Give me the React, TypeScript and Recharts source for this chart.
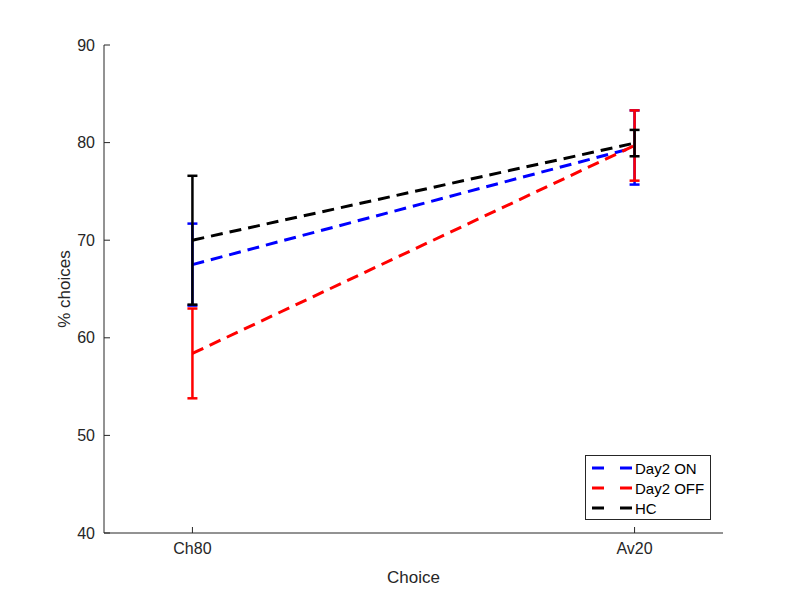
import { ComposedChart, Line, XAxis, YAxis, ErrorBar, Label } from 'recharts';

const categories = ['Ch80', 'Av20'];
const positions = [1, 2];

const day2On = [67.5, 79.5];
const day2OnErr = [4.2, 3.8];
const day2Off = [58.4, 79.7];
const day2OffErr = [4.6, 3.6];
const hc = [70.0, 79.95];
const hcErr = [6.6, 1.35];

const yTicks = [40, 50, 60, 70, 80, 90];

const series = [
  { key: 'on', name: 'Day2 ON', color: '#0000ff' },
  { key: 'off', name: 'Day2 OFF', color: '#ff0000' },
  { key: 'hc', name: 'HC', color: '#000000' },
];

const data = positions.map((x, i) => ({
  x,
  on: day2On[i],
  onErr: day2OnErr[i],
  off: day2Off[i],
  offErr: day2OffErr[i],
  hc: hc[i],
  hcErr: hcErr[i],
}));

const AXIS = '#262626';
const FONT = '"Liberation Sans", Arial, sans-serif';
const PLOT_LEFT = 104;
const PLOT_BOTTOM = 533;

// MATLAB style ticks point into the axes
const YTick = (props: any) => {
  const { y, payload } = props;
  return (
    <g>
      <line x1={PLOT_LEFT} x2={PLOT_LEFT + 6} y1={y} y2={y} stroke={AXIS} strokeWidth={1} />
      <text x={PLOT_LEFT - 9} y={y} dy={5.5} textAnchor="end" fill={AXIS} fontSize={16} fontFamily={FONT}>
        {payload.value}
      </text>
    </g>
  );
};

const XTick = (props: any) => {
  const { x, payload } = props;
  const idx = positions.indexOf(payload.value);
  return (
    <g>
      <line x1={x} x2={x} y1={PLOT_BOTTOM} y2={PLOT_BOTTOM - 6} stroke={AXIS} strokeWidth={1} />
      <text x={x} y={PLOT_BOTTOM + 21} textAnchor="middle" fill={AXIS} fontSize={16} fontFamily={FONT}>
        {idx >= 0 ? categories[idx] : ''}
      </text>
    </g>
  );
};

const LegendBox = () => (
  <div
    style={{
      position: 'absolute',
      left: 585,
      top: 455,
      width: 126,
      height: 65,
      boxSizing: 'border-box',
      border: '1px solid #262626',
      background: '#fff',
      padding: '2px 0 0 4px',
      fontFamily: FONT,
      fontSize: 15,
      color: '#000',
    }}
  >
    {series.map((s) => (
      <div key={s.key} style={{ display: 'flex', alignItems: 'center', height: 20 }}>
        <svg width={44} height={10} style={{ marginRight: 1 }}>
          <line x1={2} x2={44} y1={5} y2={5} stroke={s.color} strokeWidth={3} strokeDasharray="12 16" />
        </svg>
        <span>{s.name}</span>
      </div>
    ))}
  </div>
);

export default function App() {
  return (
    <div style={{ position: 'absolute', left: 0, top: 0, width: 800, height: 600, background: '#fff' }}>
      <ComposedChart width={800} height={600} data={data} margin={{ top: 45, right: 77, bottom: 27, left: 0 }}>
        <XAxis
          dataKey="x"
          type="number"
          domain={[0.8, 2.2]}
          ticks={positions}
          interval={0}
          axisLine={{ stroke: AXIS, strokeWidth: 1 }}
          tickLine={false}
          tick={<XTick />}
          tickSize={0}
          tickMargin={8}
          height={40}
        >
          <Label value="Choice" position="insideBottom" offset={-10} fill={AXIS} fontSize={17} fontFamily={FONT} />
        </XAxis>
        <YAxis
          type="number"
          domain={[40, 90]}
          ticks={yTicks}
          interval={0}
          axisLine={{ stroke: AXIS, strokeWidth: 1 }}
          tickLine={false}
          tick={<YTick />}
          tickSize={0}
          tickMargin={8}
          width={104}
          allowDataOverflow
        >
          <Label
            value="% choices"
            angle={-90}
            position="insideLeft"
            offset={64}
            fill={AXIS}
            fontSize={17}
            fontFamily={FONT}
            style={{ textAnchor: 'middle' }}
          />
        </YAxis>
        {series.map((s) => (
          <Line
            key={s.key}
            dataKey={s.key}
            name={s.name}
            stroke={s.color}
            strokeWidth={3}
            strokeDasharray="12 7"
            dot={false}
            activeDot={false}
            isAnimationActive={false}
          >
            <ErrorBar dataKey={`${s.key}Err`} direction="y" width={5} stroke={s.color} strokeWidth={2.5} isAnimationActive={false} />
          </Line>
        ))}
      </ComposedChart>
      <LegendBox />
    </div>
  );
}
